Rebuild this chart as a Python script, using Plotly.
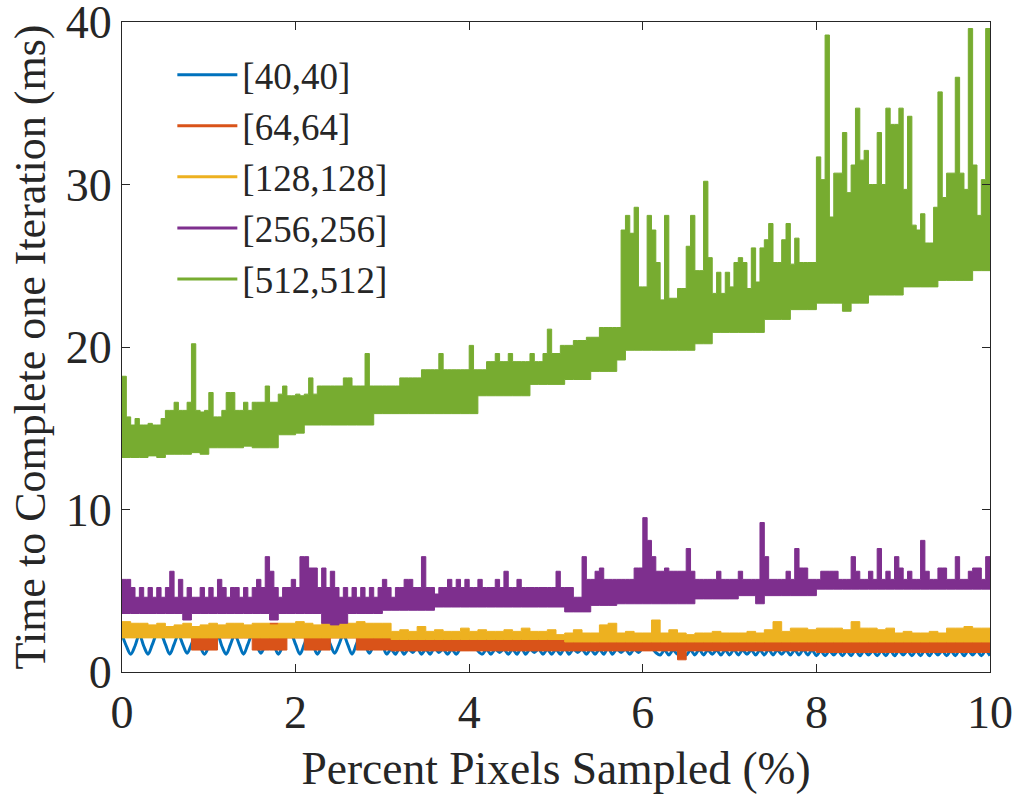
import numpy as np
import plotly.graph_objects as go

# ---------------- data ----------------
series_names = ["[40,40]", "[64,64]", "[128,128]", "[256,256]", "[512,512]"]
series_colors = ["#0072BD", "#D95319", "#EDB120", "#7E2F8E", "#77AC30"]
x_tick_vals = [0, 2, 4, 6, 8, 10]
y_tick_vals = [0, 10, 20, 30, 40]

# [40,40] : a single wavy line (ms)
blue_40 = [
    2.3, 1.6, 1.1, 1.6, 2.3, 1.6, 1.1, 1.7, 2.3, 2.3, 1.7, 1.1, 1.7, 2.3, 1.7, 1.15, 1.7, 2.3, 1.6, 1.1,
    1.6, 2.3, 2.3, 1.6, 1.1, 1.7, 2.3, 1.7, 1.1, 1.7, 2.3, 1.7, 1.15, 1.7, 2.3, 1.7, 1.1, 1.6, 2.3, 2.3,
    1.7, 1.1, 1.7, 2.3, 1.7, 1.1, 1.6, 2.3, 1.7, 1.15, 1.7, 2.3, 1.7, 1.1, 1.7, 2.3, 1.7, 1.15, 1.7, 2.3,
    1.7,
    1.1, 1.4, 1.1, 1.5, 1.1, 1.4, 1.2, 1.5, 1.1, 1.4, 1.1, 1.5, 1.2, 1.4, 1.1, 1.4, 1.1,
    1.5, 1.9, 2.1, 1.8, 1.3,
    1.1, 1.4, 1.1, 1.4, 1.2, 1.4, 1.1, 1.4, 1.1, 1.5, 1.1, 1.4, 1.2, 1.4, 1.1, 1.4, 1.1, 1.4, 1.1, 1.5,
    1.1, 1.4, 1.2, 1.4, 1.1, 1.4, 1.1, 1.4, 1.1, 1.5, 1.1, 1.4, 1.2, 1.4, 1.1, 1.4,
    1.2, 1.5, 1.7, 1.5, 1.2,
    1.05, 1.35, 1.05, 1.35, 1.1, 1.35, 1.05, 1.35, 1.05, 1.4, 1.05, 1.35, 1.1, 1.35, 1.05, 1.35, 1.05, 1.4,
    1.05, 1.35, 1.1, 1.35, 1.05, 1.35, 1.05, 1.4, 1.05, 1.35, 1.1, 1.35, 1.05, 1.35, 1.05, 1.4, 1.05, 1.35,
    1.0, 1.3, 1.0, 1.3, 1.05, 1.3, 1.0, 1.3, 1.0, 1.35, 1.0, 1.3, 1.05, 1.3, 1.0, 1.3, 1.0, 1.35, 1.0, 1.3,
    1.05, 1.3, 1.0, 1.3, 1.0, 1.35, 1.0, 1.3, 1.05, 1.3, 1.0, 1.3, 1.0, 1.35, 1.0, 1.3, 1.05, 1.3, 1.0, 1.3,
    1.0,
]

# [64,64] : band between a lower and an upper trace (ms)
red_64_hi = [
    2.2, 2.2, 2.2, 2.2, 2.2, 2.2, 2.2, 2.2, 2.2, 2.2, 2.2, 2.2, 2.2, 2.2, 2.2, 2.2, 2.2, 3.0, 2.2, 2.2,
    2.2, 2.2, 2.2, 2.2, 2.2, 3.0, 2.2, 2.2, 2.2, 2.2, 2.2, 2.1, 2.1, 2.1, 2.1, 2.1, 2.1, 2.1, 2.1, 2.1,
    2.1, 2.1, 2.1, 2.1, 2.1, 2.1, 2.1, 2.1, 2.1, 2.1, 2.1, 2.0, 2.0, 2.0, 2.0, 2.0, 2.0, 2.0, 2.0, 2.0,
    2.0, 2.0, 2.0, 2.0, 2.0, 2.0, 2.0, 2.0, 2.0, 2.0, 2.0, 2.0, 2.0, 2.0, 2.0, 2.0, 2.0, 2.0, 2.0, 2.1,
    2.1, 2.1, 2.0, 2.0, 2.0, 2.0, 2.0, 2.0, 2.0, 2.0, 2.0, 2.0, 2.0, 2.0, 2.0, 2.0, 2.0, 2.0, 2.0, 2.0,
    2.0,
]
red_64_lo = [
    2.2, 2.2, 2.2, 2.2, 2.2, 2.2, 2.2, 2.2, 1.35, 1.35, 1.35, 2.1, 2.1, 2.1, 2.1, 1.35, 1.35, 1.35, 1.35, 2.1,
    2.1, 1.35, 1.35, 1.35, 2.1, 2.1, 2.1, 1.35, 1.35, 1.35, 1.35, 1.3, 1.3, 1.3, 1.3, 1.3, 1.3, 1.3, 1.3, 1.3,
    1.3, 1.3, 1.3, 1.3, 1.3, 1.3, 1.3, 1.3, 1.3, 1.3, 1.3, 1.3, 1.3, 1.3, 1.3, 1.3, 1.3, 1.3, 1.3, 1.3,
    1.3, 1.3, 1.3, 1.3, 0.75, 1.3, 1.3, 1.3, 1.3, 1.3, 1.3, 1.3, 1.3, 1.3, 1.3, 1.3, 1.3, 1.3, 1.3, 1.3,
    1.2, 1.2, 1.2, 1.2, 1.2, 1.2, 1.2, 1.2, 1.2, 1.2, 1.2, 1.2, 1.2, 1.2, 1.2, 1.2, 1.2, 1.2, 1.2, 1.2,
    1.2,
]

# [128,128]
yellow_128_hi = [
    3.1, 3.0, 3.0, 2.9, 3.0, 2.8, 2.9, 3.0, 2.8, 2.9, 3.0, 2.9, 3.0, 3.0, 2.9, 3.0, 3.0, 2.9, 3.0, 3.0,
    3.1, 3.0, 2.9, 3.0, 3.1, 3.0, 3.0, 3.1, 3.0, 3.0, 3.0,
    2.5, 2.6, 2.5, 2.8, 2.5, 2.6, 2.5, 2.5, 2.7, 2.5, 2.6, 2.5, 2.5, 2.6, 2.5, 2.7, 2.5, 2.5, 2.6,
    2.3, 2.4, 2.6, 2.4, 2.4, 2.9, 3.0, 2.4, 2.5, 2.4, 2.4, 3.2, 2.4, 2.6, 2.4, 2.3, 2.4, 2.4, 2.5, 2.4, 2.4,
    2.4, 2.5, 2.4, 2.6, 3.1, 2.5, 2.7, 2.7, 2.6, 2.7, 2.7, 2.7, 2.6, 3.1, 2.7, 2.7, 2.6, 2.7, 2.4, 2.5,
    2.4, 2.4, 2.5, 2.4, 2.7, 2.7, 2.8, 2.7, 2.7, 2.5,
]
yellow_128_lo = [
    2.1, 2.1, 2.1, 2.1, 2.1, 2.1, 2.1, 2.1, 2.1, 2.1, 2.1, 2.1, 2.1, 2.1, 2.1, 2.1, 2.1, 2.1, 2.1, 2.1,
    2.1, 2.1, 2.1, 2.1, 2.1, 2.1, 2.1, 2.1, 2.1, 2.1, 2.1, 2.0, 2.0, 2.0, 2.0, 2.0, 2.0, 2.0, 2.0, 2.0,
    2.0, 2.0, 2.0, 2.0, 2.0, 2.0, 2.0, 2.0, 2.0, 2.0, 2.0, 1.85, 1.85, 1.85, 1.85, 1.85, 1.85, 1.85, 1.85, 1.85,
    1.85, 1.85, 1.85, 1.85, 1.85, 1.85, 1.85, 1.85, 1.85, 1.85, 1.85, 1.85, 1.85, 1.85, 1.85, 1.85, 1.85, 1.85, 1.85, 1.85,
    1.85, 1.85, 1.85, 1.85, 1.85, 1.85, 1.85, 1.85, 1.85, 1.85, 1.85, 1.85, 1.85, 1.85, 1.85, 1.85, 1.85, 1.85, 1.85, 1.85,
    1.85,
]

# [256,256]
purple_256_hi = [
    5.7, 5.7, 5.2, 4.6, 5.2, 4.6, 5.2, 4.6, 5.2, 4.6, 5.2, 6.2, 4.6, 5.7, 4.6, 5.2, 4.6, 4.6, 5.2, 4.6,
    5.2, 4.6, 5.7, 5.2, 4.6, 5.2, 5.2, 4.6, 5.2, 4.6, 5.2, 5.7, 5.2, 7.1, 6.2, 5.2, 4.6, 5.2, 5.2, 5.7,
    5.2, 7.1, 7.1, 6.4, 6.4, 5.2, 6.4, 5.2, 6.2, 5.2, 4.6, 5.2, 4.6, 5.2, 4.6, 5.2, 4.6, 5.2, 4.6, 5.2,
    5.7, 5.2, 4.6, 5.2, 5.2, 5.7, 5.7, 5.2, 5.2, 7.1, 5.2, 5.2, 4.8, 5.2, 5.2, 5.7, 5.2, 5.7, 5.2, 5.7,
    5.2, 5.2, 5.7, 5.2, 5.2, 5.2, 5.7, 5.2, 6.2, 5.2, 5.2, 5.7, 5.2, 5.2, 5.2, 5.2, 5.2, 5.2, 5.2, 5.2,
    6.2, 5.2, 5.2, 5.2, 4.6, 4.6, 7.1, 5.7, 5.7, 6.2, 6.4, 5.7, 5.7, 5.7, 5.7, 5.7, 5.7, 5.7, 6.4, 6.4,
    9.5, 8.1, 7.1, 6.2, 6.2, 6.4, 6.2, 6.2, 6.2, 6.2, 7.6, 6.2, 5.7, 5.7, 5.7, 5.7, 5.7, 6.2, 5.7, 5.7,
    5.7, 5.7, 6.2, 5.7, 5.7, 5.7, 5.7, 9.2, 7.1, 5.7, 5.7, 5.7, 5.7, 6.2, 5.7, 7.6, 6.4, 6.4, 5.7, 5.7,
    5.7, 6.2, 6.2, 6.2, 6.2, 5.7, 5.7, 5.7, 7.1, 6.2, 5.7, 5.7, 6.2, 5.7, 7.6, 5.7, 6.2, 5.7, 7.1, 6.4,
    5.7, 6.2, 5.7, 5.7, 8.1, 6.2, 5.7, 5.7, 6.4, 6.4, 5.7, 5.7, 7.1, 5.7, 5.7, 6.2, 6.4, 6.4, 5.7, 7.1,
    6.4,
]
purple_256_lo = [
    3.6, 3.6, 3.6, 3.6, 3.6, 3.6, 3.6, 3.2, 3.6, 3.6, 3.6, 3.6, 3.6, 3.6, 3.6, 3.6, 3.6, 3.2, 3.6, 3.6,
    3.6, 3.6, 3.6, 3.0, 2.9, 3.0, 3.6, 3.6, 3.6, 3.6, 3.8, 3.8, 3.8, 3.8, 3.8, 3.8, 4.0, 4.0, 4.0, 4.0,
    4.0, 4.0, 4.0, 4.0, 4.0, 4.0, 4.0, 4.0, 4.0, 4.0, 4.0, 3.7, 3.7, 3.7, 4.1, 4.1, 4.1, 4.2, 4.2, 4.2,
    4.2, 4.2, 4.2, 4.2, 4.2, 4.2, 4.5, 4.5, 4.5, 4.5, 4.5, 4.7, 4.7, 4.2, 4.7, 4.7, 4.7, 4.7, 4.7, 4.7,
    5.1, 5.1, 5.1, 5.1, 5.1, 5.1, 5.1, 5.1, 5.1, 5.1, 5.1, 5.1, 5.1, 5.1, 5.1, 5.1, 5.1, 5.1, 5.1, 5.1,
    5.1,
]

# [512,512]
green_512_hi = [
    18.2, 15.7, 15.2, 15.6, 15.2, 15.2, 15.3, 15.2, 15.2, 15.6, 16.1, 16.1, 16.6, 16.1, 16.1, 16.6, 20.2, 16.1, 16.0, 16.1,
    17.2, 15.7, 15.7, 16.1, 17.2, 17.2, 16.1, 16.1, 16.6, 16.1, 16.6, 16.6, 16.6, 17.6, 16.6, 16.6, 17.1, 17.6, 17.0, 17.0,
    17.1, 17.0, 17.1, 18.1, 17.1, 17.6, 17.6, 17.6, 17.6, 17.6, 17.6, 18.1, 18.1, 17.6, 17.6, 17.6, 19.6, 17.6, 17.6, 17.6,
    17.6, 17.6, 17.6, 17.6, 18.1, 18.1, 18.1, 18.1, 18.1, 18.6, 18.6, 18.6, 18.6, 19.6, 18.6, 18.6, 18.6, 18.6, 18.6, 18.6,
    20.1, 18.6, 18.6, 18.6, 19.1, 19.1, 19.6, 19.1, 19.1, 19.6, 19.1, 19.1, 19.1, 19.1, 19.6, 19.1, 19.1, 19.6, 21.1, 19.6,
    19.6, 20.1, 20.1, 20.1, 20.4, 20.4, 20.4, 20.6, 20.6, 20.6, 21.2, 21.2, 21.2, 21.2, 21.2, 27.2, 28.1, 27.0, 28.6, 23.7,
    23.7, 28.1, 27.2, 25.2, 22.9, 28.1, 23.0, 23.0, 23.6, 23.6, 26.2, 28.1, 24.7, 24.7, 30.2, 25.5, 23.3, 24.6, 23.3, 24.6,
    23.7, 25.2, 25.5, 25.2, 23.6, 26.1, 24.0, 26.1, 26.6, 27.6, 25.2, 25.2, 26.6, 27.6, 25.1, 26.7, 25.2, 25.2, 25.2, 25.2,
    31.7, 30.3, 39.2, 28.0, 30.7, 30.7, 33.2, 29.5, 31.2, 34.7, 31.5, 32.1, 30.0, 30.0, 33.2, 30.0, 34.7, 33.7, 33.7, 34.7,
    29.7, 34.2, 27.5, 27.2, 28.2, 26.4, 26.4, 28.6, 35.7, 29.2, 30.7, 30.7, 36.6, 30.7, 29.7, 39.6, 31.2, 28.1, 30.3, 39.6,
    30.3,
]
green_512_lo = [
    13.2, 13.2, 13.2, 13.3, 13.2, 13.4, 13.4, 13.4, 13.5, 13.4, 13.8, 13.8, 13.8, 13.8, 13.9, 13.8, 13.8, 13.8, 14.6, 14.6,
    14.7, 15.2, 15.2, 15.2, 15.2, 15.2, 15.2, 15.2, 15.2, 15.9, 15.9, 15.9, 15.9, 15.9, 15.9, 15.9, 15.9, 15.9, 15.9, 15.9,
    15.9, 17.0, 17.0, 17.0, 17.0, 17.0, 17.0, 17.7, 17.7, 17.7, 17.7, 18.0, 18.0, 18.0, 18.5, 18.5, 18.5, 19.2, 19.8, 19.8,
    19.8, 19.8, 19.8, 19.8, 19.8, 19.8, 20.2, 20.2, 20.9, 20.9, 20.9, 20.9, 20.9, 20.9, 21.7, 21.7, 21.7, 22.3, 22.3, 22.3,
    22.7, 22.7, 22.7, 22.2, 22.7, 22.7, 23.2, 23.2, 23.2, 23.2, 23.7, 23.7, 23.7, 23.7, 24.1, 24.1, 24.1, 24.1, 24.7, 24.7,
    24.7,
]

X_MIN, X_MAX = 0.0, 10.0


def xs(values):
    return np.linspace(X_MIN, X_MAX, len(values))


fig = go.Figure()

# [40,40] line
fig.add_trace(go.Scatter(
    x=xs(blue_40), y=blue_40, mode="lines",
    line=dict(color=series_colors[0], width=3, shape="spline", smoothing=1.0),
    showlegend=False, hoverinfo="skip"))

bands = [
    (red_64_lo, red_64_hi, series_colors[1]),
    (yellow_128_lo, yellow_128_hi, series_colors[2]),
    (purple_256_lo, purple_256_hi, series_colors[3]),
    (green_512_lo, green_512_hi, series_colors[4]),
]
for lo, hi, col in bands:
    fig.add_trace(go.Scatter(
        x=xs(lo), y=lo, mode="lines",
        line=dict(color=col, width=1, shape="hv"),
        showlegend=False, hoverinfo="skip"))
    fig.add_trace(go.Scatter(
        x=xs(hi), y=hi, mode="lines", fill="tonexty", fillcolor=col,
        line=dict(color=col, width=1, shape="hv"),
        showlegend=False, hoverinfo="skip"))

# legend entries
for name, col in zip(series_names, series_colors):
    fig.add_trace(go.Scatter(
        x=[None], y=[None], mode="lines", name=name,
        line=dict(color=col, width=3)))

axis_color = "#262626"
FONT = "Liberation Serif, Times New Roman, serif"

fig.update_layout(
    width=1015, height=798, autosize=False,
    margin=dict(l=122, r=25, t=22, b=126),
    paper_bgcolor="white", plot_bgcolor="white",
    font=dict(family=FONT, color=axis_color),
    legend=dict(
        x=0.058, y=0.966, xanchor="left", yanchor="top",
        bgcolor="rgba(255,255,255,0)", borderwidth=0,
        font=dict(family=FONT, size=37, color=axis_color),
        itemwidth=60, tracegroupgap=0, traceorder="normal",
    ),
)

fig.update_xaxes(
    range=[X_MIN, X_MAX], tickvals=x_tick_vals, ticktext=[str(v) for v in x_tick_vals],
    ticks="inside", ticklen=8, tickwidth=1.3, tickcolor=axis_color,
    showline=True, linecolor=axis_color, linewidth=1.3, mirror="ticks",
    showgrid=False, zeroline=False, ticklabeloverflow="allow", automargin=False,
    tickfont=dict(family=FONT, size=46, color=axis_color),
    title=dict(text="Percent Pixels Sampled (%)", font=dict(family=FONT, size=45.5, color=axis_color), standoff=14),
)
fig.update_yaxes(
    range=[0, 40], tickvals=y_tick_vals, ticktext=[str(v) for v in y_tick_vals],
    ticks="inside", ticklen=8, tickwidth=1.3, tickcolor=axis_color,
    showline=True, linecolor=axis_color, linewidth=1.3, mirror="ticks",
    showgrid=False, zeroline=False, ticklabeloverflow="allow", automargin=False,
    tickfont=dict(family=FONT, size=46, color=axis_color),
    title=dict(text="Time to Complete one Iteration (ms)", font=dict(family=FONT, size=44, color=axis_color), standoff=6),
)

fig.write_html("out.html")
